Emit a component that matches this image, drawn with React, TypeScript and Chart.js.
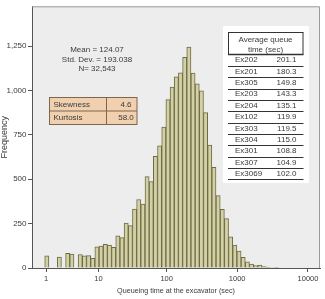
import { useEffect, useRef } from 'react';
import { Chart, registerables } from 'chart.js';

Chart.register(...registerables);

const FONT = "'Liberation Sans', Arial, Helvetica, sans-serif";
const TEXT = '#3a3a3a';
const AXIS = '#555555';

// Histogram of queueing times, binned on a log10(seconds + 1) axis
const binStart = 0.2826;
const binWidth = 0.059;
const binCounts = [
  68, 0, 0, 61, 0, 83, 78, 0, 76, 68, 70, 54, 119, 124, 134, 129, 117, 181, 171, 253,
  239, 332, 386, 360, 515, 487, 630, 688, 794, 949, 1020, 1078, 1100, 1187, 1245, 1098,
  1038, 999, 876, 693, 567, 408, 330, 278, 175, 129, 95, 60, 35, 22, 14, 16, 8, 5, 3, 2,
];

const xTickSeconds = [1, 10, 100, 1000, 10000];
const xMin = 0.103;
const xMax = 4.17;
const yTicks = [0, 250, 500, 750, 1000, 1250];
const yMax = 1475;

const summaryLines = ['Mean = 124.07', 'Std. Dev. = 193.038', 'N= 32,543'];
const shapeNames = ['Skewness', 'Kurtosis'];
const shapeValues = [4.6, 58.0];

const tableHeader = ['Average queue', 'time (sec)'];
const excavators = ['Ex202', 'Ex201', 'Ex305', 'Ex203', 'Ex204', 'Ex102', 'Ex303', 'Ex304', 'Ex301', 'Ex307', 'Ex3069'];
const avgQueueSec = [201.1, 180.3, 149.8, 143.3, 135.1, 119.9, 119.5, 115.0, 108.8, 104.9, 102.0];

const toLogAxis = (sec: number) => Math.log10(sec + 1);

const decorPlugin = {
  id: 'decor',
  beforeDraw(chart: any) {
    const { ctx, chartArea: a } = chart;
    ctx.save();
    ctx.fillStyle = '#ededed';
    ctx.fillRect(a.left, a.top, a.right - a.left, a.bottom - a.top);
    ctx.restore();
  },
  afterDatasetsDraw(chart: any) {
    const { ctx, chartArea: a } = chart;
    ctx.save();

    // outer frame of the plot (top and right edges)
    ctx.strokeStyle = '#9a9a9a';
    ctx.lineWidth = 1;
    ctx.beginPath();
    ctx.moveTo(a.left, a.top + 0.5);
    ctx.lineTo(a.right - 0.5, a.top + 0.5);
    ctx.lineTo(a.right - 0.5, a.bottom);
    ctx.stroke();

    // summary statistics
    ctx.font = `8px ${FONT}`;
    ctx.fillStyle = TEXT;
    ctx.textAlign = 'center';
    ctx.textBaseline = 'middle';
    summaryLines.forEach((line, i) => ctx.fillText(line, 97, 50 + i * 9.5));

    // skewness / kurtosis box
    const bx = 49.5, by = 97.5, bw = 87.5, rowH = 13.5, splitX = 106.5;
    ctx.fillStyle = '#f0d0ae';
    ctx.fillRect(bx, by, bw, rowH * 2);
    ctx.strokeStyle = '#7d6650';
    ctx.strokeRect(bx, by, bw, rowH * 2);
    ctx.beginPath();
    ctx.moveTo(bx, by + rowH);
    ctx.lineTo(bx + bw, by + rowH);
    ctx.moveTo(splitX, by);
    ctx.lineTo(splitX, by + rowH * 2);
    ctx.stroke();
    ctx.fillStyle = TEXT;
    shapeNames.forEach((name, i) => {
      const cy = by + rowH * (i + 0.5) + 0.5;
      ctx.textAlign = 'left';
      ctx.fillText(name, 53.5, cy);
      ctx.textAlign = 'center';
      ctx.fillText(shapeValues[i].toFixed(1), 126, cy);
    });

    // average queue time table
    ctx.fillStyle = '#ffffff';
    ctx.fillRect(223, 26, 86, 157);
    const lx0 = 228, lx1 = 303.5;
    const headTop = 32.5, headBottom = 54.5, pitch = 11.36;
    ctx.strokeStyle = '#333333';
    ctx.lineWidth = 1;
    ctx.beginPath();
    ctx.moveTo(lx0, headTop);
    ctx.lineTo(lx1, headTop);
    ctx.moveTo(lx0 + 0.5, headTop);
    ctx.lineTo(lx0 + 0.5, headBottom);
    ctx.moveTo(lx1 - 0.5, headTop);
    ctx.lineTo(lx1 - 0.5, headBottom);
    ctx.stroke();
    ctx.lineWidth = 1.5;
    ctx.beginPath();
    ctx.moveTo(lx0, headBottom);
    ctx.lineTo(lx1, headBottom);
    ctx.stroke();
    ctx.lineWidth = 1;
    ctx.fillStyle = TEXT;
    ctx.textAlign = 'center';
    tableHeader.forEach((h, i) => ctx.fillText(h, 265.5, 40 + i * 10));
    excavators.forEach((name, i) => {
      const cy = headBottom + pitch * (i + 0.5);
      ctx.textAlign = 'left';
      ctx.fillText(name, 235, cy);
      ctx.textAlign = 'right';
      ctx.fillText(avgQueueSec[i].toFixed(1), 296.5, cy);
      const ly = Math.round(headBottom + pitch * (i + 1)) + 0.5;
      ctx.beginPath();
      ctx.moveTo(lx0, ly);
      ctx.lineTo(lx1, ly);
      ctx.stroke();
    });

    ctx.restore();
  },
};

export default function App() {
  const canvasRef = useRef<HTMLCanvasElement | null>(null);

  useEffect(() => {
    document.body.style.margin = '0';
    const canvas = canvasRef.current;
    if (!canvas) return;

    const points = binCounts.map((count, i) => ({
      x: binStart + binWidth * (i + 0.5),
      y: count > 0 ? count : null,
    }));

    const chart = new Chart(canvas, {
      type: 'bar',
      data: {
        datasets: [
          {
            data: points as any,
            backgroundColor: '#d3d1a3',
            borderColor: '#6c6a48',
            borderWidth: 1,
            barPercentage: 1,
            categoryPercentage: 1,
          },
        ],
      },
      options: {
        responsive: false,
        animation: false,
        devicePixelRatio: 1,
        layout: { padding: { left: 0, right: 5, top: 4, bottom: 0 } },
        plugins: { legend: { display: false }, tooltip: { enabled: false } },
        scales: {
          x: {
            type: 'linear',
            min: xMin,
            max: xMax,
            offset: false,
            afterBuildTicks: (scale: any) => {
              scale.ticks = xTickSeconds.map((s) => ({ value: toLogAxis(s) }));
            },
            afterFit: (scale: any) => {
              scale.height = 31;
            },
            ticks: {
              autoSkip: false,
              maxRotation: 0,
              padding: 2,
              color: TEXT,
              font: { family: FONT, size: 7.5 },
              callback: (_v: any, i: number) => String(xTickSeconds[i]),
            },
            grid: {
              display: true,
              offset: false,
              drawOnChartArea: false,
              drawTicks: true,
              tickLength: 4,
              color: AXIS,
            },
            border: { display: true, color: AXIS },
            title: {
              display: true,
              text: 'Queueing time at the excavator (sec)',
              color: TEXT,
              font: { family: FONT, size: 7.2 },
              padding: { top: 0, bottom: 4 },
            },
          },
          y: {
            min: 0,
            max: yMax,
            afterBuildTicks: (scale: any) => {
              scale.ticks = yTicks.map((v) => ({ value: v }));
            },
            afterFit: (scale: any) => {
              scale.width = 32;
            },
            ticks: {
              padding: 1.5,
              color: TEXT,
              font: { family: FONT, size: 8 },
              callback: (v: any) => Number(v).toLocaleString('en-US'),
            },
            grid: { display: true, drawOnChartArea: false, drawTicks: true, tickLength: 4, color: AXIS },
            border: { display: true, color: AXIS },
            title: {
              display: true,
              text: 'Frequency',
              color: TEXT,
              font: { family: FONT, size: 9 },
              padding: { top: -1, bottom: 0 },
            },
          },
        },
      },
      plugins: [decorPlugin],
    });

    return () => chart.destroy();
  }, []);

  return (
    <div style={{ width: 325, height: 299, position: 'relative', background: '#ffffff' }}>
      <canvas ref={canvasRef} width={325} height={299} style={{ display: 'block' }} />
    </div>
  );
}
